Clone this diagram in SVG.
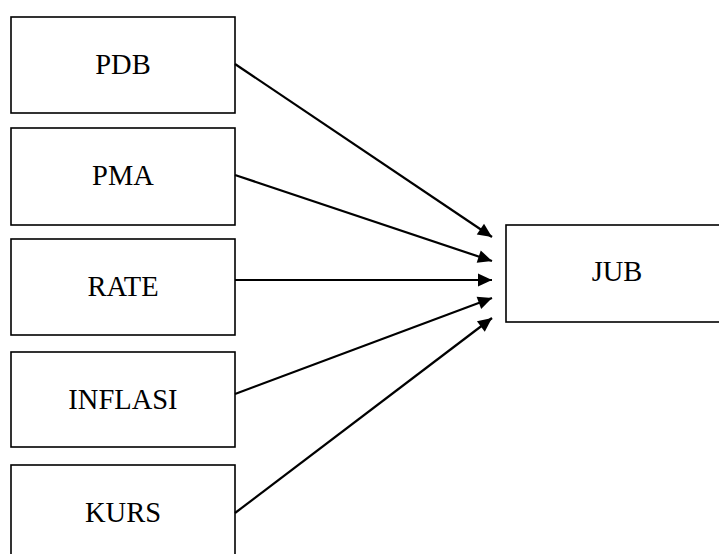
<svg xmlns="http://www.w3.org/2000/svg" width="719" height="554" viewBox="0 0 719 554">
<style>
.box{fill:#fff;stroke:#000;stroke-width:1.6}
.lbl{font-family:"Liberation Serif","Times New Roman",serif;font-size:28.5px;fill:#000;text-anchor:middle}
.edge{stroke:#000;stroke-width:2.2;fill:none;marker-end:url(#ah)}
</style>
<defs>
<marker id="ah" markerUnits="userSpaceOnUse" markerWidth="16" markerHeight="16" viewBox="0 0 16 16" refX="15" refY="8" orient="auto">
<path d="M1,1.5 L15,8 L1,14.5 Z" fill="#000"/>
</marker>
</defs>
<rect width="719" height="554" fill="#fff"/>
<g id="node-pdb"><rect class="box" x="11" y="17" width="224" height="96"/><text class="lbl" x="123" y="74">PDB</text></g>
<g id="node-pma"><rect class="box" x="11" y="128" width="224" height="97"/><text class="lbl" x="123" y="185">PMA</text></g>
<g id="node-rate"><rect class="box" x="11" y="239" width="224" height="96"/><text class="lbl" x="123" y="296">RATE</text></g>
<g id="node-inflasi"><rect class="box" x="11" y="352" width="224" height="95"/><text class="lbl" x="123" y="409">INFLASI</text></g>
<g id="node-kurs"><rect class="box" x="11" y="465" width="224" height="96"/><text class="lbl" x="123" y="522">KURS</text></g>
<g id="node-jub"><rect class="box" x="506" y="225" width="223" height="97"/><text class="lbl" x="617" y="281">JUB</text></g>
<g id="connectors">
<line class="edge" x1="235" y1="64" x2="492" y2="237"/>
<line class="edge" x1="235" y1="175" x2="492" y2="261"/>
<line class="edge" x1="235" y1="280" x2="492" y2="280"/>
<line class="edge" x1="235" y1="394" x2="492" y2="298"/>
<line class="edge" x1="235" y1="513" x2="492" y2="318"/>
</g>
</svg>
